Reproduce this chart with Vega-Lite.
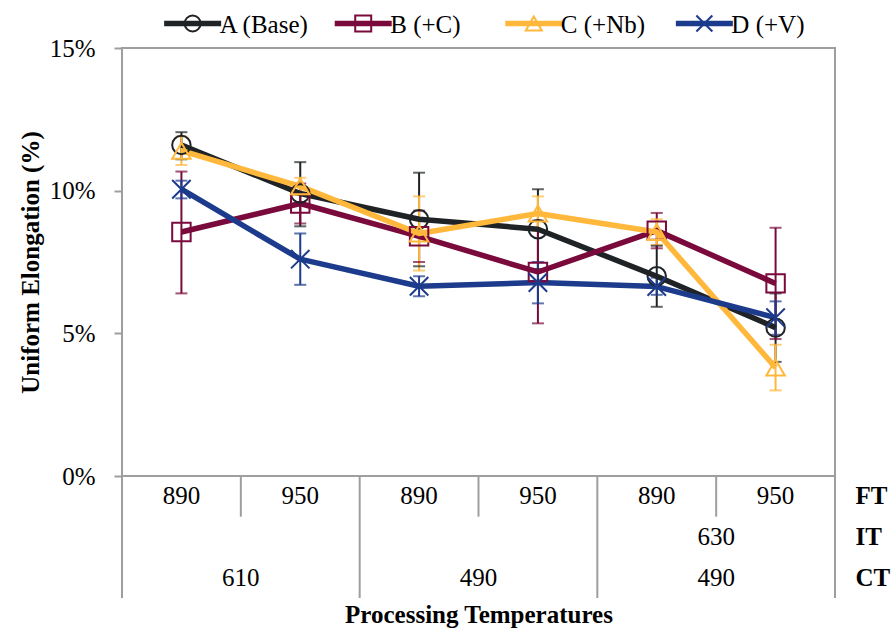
{
  "$schema": "https://vega.github.io/schema/vega-lite/v6.json",
  "padding": {"left": 17, "top": 3, "right": 8, "bottom": 2},
  "background": "white",
  "config": {
    "font": "Times New Roman, Liberation Serif, serif",
    "view": {"stroke": "#9e9e9e", "strokeWidth": 2},
    "axis": {"labelColor": "black", "titleColor": "black", "labelFont": "Times New Roman, Liberation Serif, serif", "titleFont": "Times New Roman, Liberation Serif, serif"},
    "text": {"font": "Times New Roman, Liberation Serif, serif"}
  },
  "datasets": {
    "ue": [
      {"s": "A (Base)", "cond": "CT610 FT890", "ue": 11.6, "lo": 11.1, "hi": 12.05},
      {"s": "A (Base)", "cond": "CT610 FT950", "ue": 9.9, "lo": 8.75, "hi": 11.0},
      {"s": "A (Base)", "cond": "CT490 FT890", "ue": 9.0, "lo": 7.35, "hi": 10.63},
      {"s": "A (Base)", "cond": "CT490 FT950", "ue": 8.65, "lo": 7.25, "hi": 10.05},
      {"s": "A (Base)", "cond": "IT630 CT490 FT890", "ue": 7.0, "lo": 5.93, "hi": 8.07},
      {"s": "A (Base)", "cond": "IT630 CT490 FT950", "ue": 5.2, "lo": 4.0, "hi": 6.4},
      {"s": "B (+C)", "cond": "CT610 FT890", "ue": 8.55, "lo": 6.4, "hi": 10.67},
      {"s": "B (+C)", "cond": "CT610 FT950", "ue": 9.55, "lo": 8.85, "hi": 10.25},
      {"s": "B (+C)", "cond": "CT490 FT890", "ue": 8.4, "lo": 7.5, "hi": 9.3},
      {"s": "B (+C)", "cond": "CT490 FT950", "ue": 7.15, "lo": 5.35, "hi": 8.95},
      {"s": "B (+C)", "cond": "IT630 CT490 FT890", "ue": 8.6, "lo": 7.98, "hi": 9.22},
      {"s": "B (+C)", "cond": "IT630 CT490 FT950", "ue": 6.75, "lo": 4.8, "hi": 8.7},
      {"s": "C (+Nb)", "cond": "CT610 FT890", "ue": 11.4, "lo": 10.9, "hi": 11.9},
      {"s": "C (+Nb)", "cond": "CT610 FT950", "ue": 10.15, "lo": 9.85, "hi": 10.45},
      {"s": "C (+Nb)", "cond": "CT490 FT890", "ue": 8.5, "lo": 7.2, "hi": 9.8},
      {"s": "C (+Nb)", "cond": "CT490 FT950", "ue": 9.2, "lo": 8.6, "hi": 9.8},
      {"s": "C (+Nb)", "cond": "IT630 CT490 FT890", "ue": 8.55, "lo": 8.1, "hi": 9.0},
      {"s": "C (+Nb)", "cond": "IT630 CT490 FT950", "ue": 3.8, "lo": 3.0, "hi": 4.6},
      {"s": "D (+V)", "cond": "CT610 FT890", "ue": 10.05, "lo": 9.73, "hi": 10.35},
      {"s": "D (+V)", "cond": "CT610 FT950", "ue": 7.6, "lo": 6.7, "hi": 8.5},
      {"s": "D (+V)", "cond": "CT490 FT890", "ue": 6.65, "lo": 6.3, "hi": 7.0},
      {"s": "D (+V)", "cond": "CT490 FT950", "ue": 6.78, "lo": 6.05, "hi": 7.5},
      {"s": "D (+V)", "cond": "IT630 CT490 FT890", "ue": 6.64, "lo": 6.35, "hi": 6.95},
      {"s": "D (+V)", "cond": "IT630 CT490 FT950", "ue": 5.55, "lo": 4.95, "hi": 6.12}
    ],
    "legend": [{"s": "A (Base)"}, {"s": "B (+C)"}, {"s": "C (+Nb)"}, {"s": "D (+V)"}],
    "ft": [
      {"cond": "CT610 FT890", "level": "FT", "t": "890"},
      {"cond": "CT610 FT950", "level": "FT", "t": "950"},
      {"cond": "CT490 FT890", "level": "FT", "t": "890"},
      {"cond": "CT490 FT950", "level": "FT", "t": "950"},
      {"cond": "IT630 CT490 FT890", "level": "FT", "t": "890"},
      {"cond": "IT630 CT490 FT950", "level": "FT", "t": "950"}
    ],
    "grp": [
      {"grp": "G1", "level": "CT", "t": "610"},
      {"grp": "G2", "level": "CT", "t": "490"},
      {"grp": "G3", "level": "CT", "t": "490"},
      {"grp": "G3", "level": "IT", "t": "630"}
    ],
    "groups": [{"grp": "G1"}, {"grp": "G2"}, {"grp": "G3"}],
    "bounds": [{"b": "left edge"}, {"b": "CT610 | CT490"}, {"b": "CT490 | IT630"}, {"b": "right edge"}]
  },
  "spacing": 0,
  "bounds": "flush",
  "vconcat": [
    {
      "width": 713,
      "height": 45,
      "view": {"stroke": null},
      "data": {"name": "legend"},
      "encoding": {
        "x": {"field": "s", "type": "nominal", "sort": null, "axis": null, "scale": {"type": "point", "padding": 0.59}},
        "color": {
          "field": "s", "type": "nominal", "sort": null, "legend": null,
          "scale": {"domain": ["A (Base)", "B (+C)", "C (+Nb)", "D (+V)"], "range": ["#1f2326", "#7a0a3c", "#ffb83c", "#1c3b8c"]}
        }
      },
      "layer": [
        {
          "mark": {"type": "point", "shape": "M-1,0H1", "size": 3249, "filled": false, "strokeWidth": 5.5, "opacity": 1, "xOffset": -30, "yOffset": -2}
        },
        {
          "mark": {"type": "point", "filled": false, "strokeWidth": 2, "size": 256, "opacity": 1, "xOffset": -30, "yOffset": -2},
          "encoding": {
            "shape": {
              "field": "s", "type": "nominal", "sort": null, "legend": null,
              "scale": {"domain": ["A (Base)", "B (+C)", "C (+Nb)", "D (+V)"], "range": ["circle", "square", "triangle-up", "M-1,-1L1,1M-1,1L1,-1"]}
            }
          }
        },
        {
          "mark": {"type": "text", "align": "left", "baseline": "middle", "fontSize": 25, "font": "Times New Roman, Liberation Serif, serif", "color": "black", "xOffset": -3, "yOffset": -1},
          "encoding": {"text": {"field": "s"}, "color": {"value": "black"}}
        }
      ]
    },
    {
      "width": 713,
      "height": 428,
      "data": {"name": "ue"},
      "encoding": {
        "x": {"field": "cond", "type": "nominal", "sort": null, "axis": null, "scale": {"type": "point", "padding": 0.5}},
        "color": {
          "field": "s", "type": "nominal", "sort": null, "legend": null,
          "scale": {"domain": ["A (Base)", "B (+C)", "C (+Nb)", "D (+V)"], "range": ["#1f2326", "#7a0a3c", "#ffb83c", "#1c3b8c"]}
        }
      },
      "layer": [
        {
          "mark": {"type": "rule", "strokeWidth": 2},
          "encoding": {
            "y": {
              "field": "lo", "type": "quantitative", "title": "Uniform Elongation (%)",
              "scale": {"domain": [0, 15], "nice": false},
              "axis": {
                "values": [0, 5, 10, 15], "labelExpr": "datum.value + '%'",
                "title": "Uniform Elongation (%)", "titleFontSize": 25, "titleFontWeight": "bold",
                "labelFontSize": 25, "tickColor": "#9e9e9e", "tickSize": 8, "tickWidth": 2,
                "domain": false, "grid": false, "labelPadding": 19, "titlePadding": 6
              }
            },
            "y2": {"field": "hi"}
          }
        },
        {
          "mark": {"type": "tick", "size": 12, "thickness": 2},
          "encoding": {"y": {"field": "lo", "type": "quantitative", "title": "Uniform Elongation (%)"}}
        },
        {
          "mark": {"type": "tick", "size": 12, "thickness": 2},
          "encoding": {"y": {"field": "hi", "type": "quantitative", "title": "Uniform Elongation (%)"}}
        },
        {
          "mark": {"type": "line", "strokeWidth": 5.5, "strokeJoin": "round"},
          "encoding": {"y": {"field": "ue", "type": "quantitative", "title": "Uniform Elongation (%)"}}
        },
        {
          "mark": {"type": "point", "filled": false, "strokeWidth": 2, "size": 340, "opacity": 1},
          "encoding": {
            "y": {"field": "ue", "type": "quantitative", "title": "Uniform Elongation (%)"},
            "shape": {
              "field": "s", "type": "nominal", "sort": null, "legend": null,
              "scale": {"domain": ["A (Base)", "B (+C)", "C (+Nb)", "D (+V)"], "range": ["circle", "square", "triangle-up", "M-1,-1L1,1M-1,1L1,-1"]}
            }
          }
        }
      ]
    },
    {
      "width": 713,
      "height": 122,
      "view": {"stroke": null},
      "resolve": {"scale": {"x": "independent"}},
      "layer": [
        {
          "data": {"name": "ft"},
          "mark": {"type": "text", "fontSize": 25, "color": "black", "font": "Times New Roman, Liberation Serif, serif"},
          "encoding": {
            "x": {"field": "cond", "type": "nominal", "sort": null, "axis": null, "scale": {"type": "point", "padding": 0.5}},
            "y": {
              "field": "level", "type": "nominal",
              "scale": {"type": "band", "domain": ["FT", "IT", "CT"], "paddingInner": 0, "paddingOuter": 0},
              "axis": {"orient": "right", "title": null, "domain": false, "ticks": false, "labelFontSize": 25, "labelFontWeight": "bold", "labelPadding": 20}
            },
            "text": {"field": "t"}
          }
        },
        {
          "data": {"name": "grp"},
          "mark": {"type": "text", "fontSize": 25, "color": "black", "font": "Times New Roman, Liberation Serif, serif"},
          "encoding": {
            "x": {"field": "grp", "type": "nominal", "sort": null, "axis": null, "scale": {"type": "point", "padding": 0.5}},
            "y": {
              "field": "level", "type": "nominal",
              "axis": {"orient": "right", "title": null, "domain": false, "ticks": false, "labelFontSize": 25, "labelFontWeight": "bold", "labelPadding": 20}
            },
            "text": {"field": "t"}
          }
        },
        {
          "data": {"name": "groups"},
          "mark": {"type": "rule", "color": "#9e9e9e", "strokeWidth": 2},
          "encoding": {
            "x": {"field": "grp", "type": "nominal", "sort": null, "axis": null, "scale": {"type": "point", "padding": 0.5}},
            "y": {"datum": "FT", "type": "nominal", "bandPosition": 0},
            "y2": {"datum": "IT", "bandPosition": 0}
          }
        },
        {
          "data": {"name": "bounds"},
          "mark": {"type": "rule", "color": "#9e9e9e", "strokeWidth": 2},
          "encoding": {
            "x": {
              "field": "b", "type": "nominal", "sort": null,
              "scale": {"type": "point", "padding": 0},
              "axis": {"title": "Processing Temperatures", "labels": false, "ticks": false, "domain": false, "titleFontSize": 25, "titleFontWeight": "bold", "titlePadding": 4}
            }
          }
        }
      ]
    }
  ]
}
